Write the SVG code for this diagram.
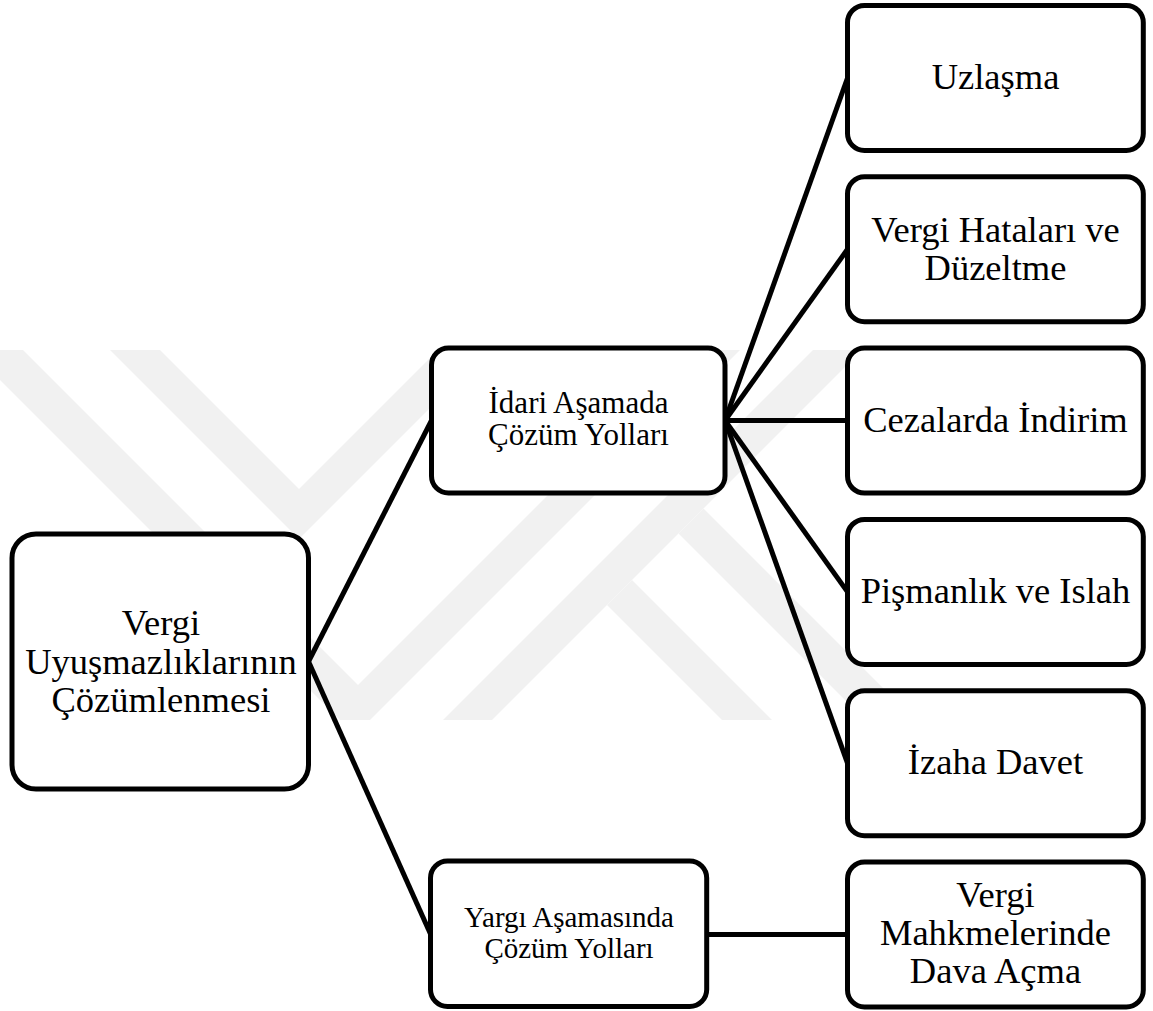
<svg xmlns="http://www.w3.org/2000/svg" width="1153" height="1011" viewBox="0 0 1153 1011">
<defs>
<style>
.wm{fill:#f1f1f1;stroke:none}
.box{fill:#ffffff;stroke:#000000;stroke-width:5}
.ln{stroke:#000000;stroke-width:5;fill:none;stroke-linecap:butt}
.t{font-family:"Liberation Serif","Times New Roman",serif;fill:#000000;text-anchor:middle}
.big{font-size:36.5px}
.mid{font-size:31px}
.sm{font-size:29px}
</style>
</defs>
<rect x="0" y="0" width="1153" height="1011" fill="#ffffff"/>
<g id="watermark">
<polygon class="wm" points="-30,350 23,350 358,685 693,350 740,350 370,720 340,720"/>
<polygon class="wm" points="110,350 160,350 299,489 438,350 488,350 299,539"/>
<polygon class="wm" points="443,720 813,350 862,350 492,720"/>
<polygon class="wm" points="632,580 607,605 722,720 772,720"/>
<polygon class="wm" points="703.5,508.5 678.5,533.5 865,720 915,720"/>
</g>
<g id="connectors">
<line class="ln" x1="308.5" y1="661.5" x2="431.5" y2="420.5"/>
<line class="ln" x1="308.5" y1="661.5" x2="430.5" y2="934"/>
<line class="ln" x1="725" y1="420.5" x2="847.5" y2="78"/>
<line class="ln" x1="725" y1="420.5" x2="847.5" y2="249.3"/>
<line class="ln" x1="725" y1="420.5" x2="847.5" y2="420.6"/>
<line class="ln" x1="725" y1="420.5" x2="847.5" y2="591.9"/>
<line class="ln" x1="725" y1="420.5" x2="847.5" y2="763.2"/>
<line class="ln" x1="706.7" y1="934.5" x2="847.5" y2="934.5"/>
</g>
<g id="node-root">
<rect class="box" x="12" y="534" width="296.5" height="255" rx="24"/>
<text class="t big" x="161" y="635">Vergi</text>
<text class="t big" x="161" y="673.5">Uyuşmazlıklarının</text>
<text class="t big" x="161" y="712">Çözümlenmesi</text>
</g>
<g id="node-idari">
<rect class="box" x="431.5" y="348" width="293.5" height="145" rx="17"/>
<text class="t mid" x="578.5" y="413">İdari Aşamada</text>
<text class="t mid" x="578.5" y="445">Çözüm Yolları</text>
</g>
<g id="node-yargi">
<rect class="box" x="430.5" y="861" width="276.2" height="145.5" rx="17"/>
<text class="t sm" x="569" y="927">Yargı Aşamasında</text>
<text class="t sm" x="569" y="958">Çözüm Yolları</text>
</g>
<g id="node-uzlasma">
<rect class="box" x="847.5" y="5.5" width="295.8" height="145" rx="17"/>
<text class="t big" x="995.5" y="89.3">Uzlaşma</text>
</g>
<g id="node-hatalar">
<rect class="box" x="847.5" y="176.8" width="295.8" height="145" rx="17"/>
<text class="t big" x="995.5" y="242">Vergi Hataları ve</text>
<text class="t big" x="995.5" y="280.3">Düzeltme</text>
</g>
<g id="node-ceza">
<rect class="box" x="847.5" y="348.1" width="295.8" height="145" rx="17"/>
<text class="t big" x="995.5" y="431.7">Cezalarda İndirim</text>
</g>
<g id="node-pismanlik">
<rect class="box" x="847.5" y="519.4" width="295.8" height="145" rx="17"/>
<text class="t big" x="995.5" y="603.3">Pişmanlık ve Islah</text>
</g>
<g id="node-izaha">
<rect class="box" x="847.5" y="690.7" width="295.8" height="145" rx="17"/>
<text class="t big" x="995.5" y="773.5">İzaha Davet</text>
</g>
<g id="node-mahkeme">
<rect class="box" x="847.5" y="862" width="295.8" height="145" rx="17"/>
<text class="t big" x="995.5" y="906.7">Vergi</text>
<text class="t big" x="995.5" y="945">Mahkmelerinde</text>
<text class="t big" x="995.5" y="983.3">Dava Açma</text>
</g>
</svg>
